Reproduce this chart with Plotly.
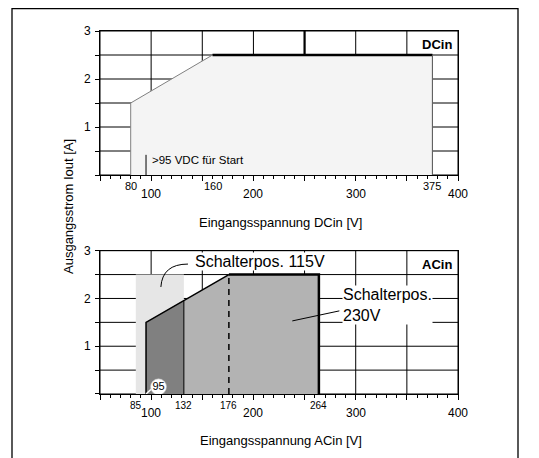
import plotly.graph_objects as go

FONT = "Liberation Sans, Arial, Helvetica, sans-serif"

# ---------------- data ----------------
# DC input derating area
dc_x = [80, 80, 160, 375, 375]
dc_y = [0, 1.5, 2.5, 2.5, 0]
dc_top_x = [160, 375, 375]
dc_top_y = [2.5, 2.5, 0]
dc_start_x = [95, 95]
dc_start_y = [0, 0.42]
dc_thick_grid_x = [250, 250]
dc_thick_grid_y = [2.5, 3]

# AC input areas
ac115_x = [85, 85, 132, 132]
ac115_y = [0, 2.5, 2.5, 0]
ac230_x = [95, 95, 176, 264, 264]
ac230_y = [0, 1.5, 2.5, 2.5, 0]
acdark_x = [95, 95, 132, 132]
acdark_y = [0, 1.5, 1.96, 0]
ac_edge_x = [95, 95, 176]
ac_edge_y = [0, 1.5, 2.5]
ac_top_x = [176, 264, 264]
ac_top_y = [2.5, 2.5, 0]
ac_132_x = [132, 132]
ac_132_y = [0, 1.96]
ac_dash_x = [176, 176]
ac_dash_y = [0, 2.5]
ac95_label = "95"

# ticks / grid
x_major_labels = [100, 200, 300, 400]
dc_special_labels = [80, 160, 375]
ac_special_labels = [85, 132, 176, 264]
y_tickvals = [0, 0.5, 1, 1.5, 2, 2.5, 3]
y_ticktext = ["", "", "1", "", "2", "", "3"]
x_gridvals = [50, 100, 150, 200, 250, 300, 350, 400]

fig = go.Figure()

def poly(x, y, color, xa, ya):
    fig.add_trace(go.Scatter(x=x, y=y, fill="toself", fillcolor=color, mode="lines",
                             line=dict(width=0, color=color), hoverinfo="skip",
                             showlegend=False, xaxis=xa, yaxis=ya))

def line(x, y, xa, ya, color="black", width=1, dash="solid"):
    fig.add_trace(go.Scatter(x=x, y=y, mode="lines", line=dict(color=color, width=width, dash=dash),
                             hoverinfo="skip", showlegend=False, xaxis=xa, yaxis=ya))

# --- top (DC) ---
fig.add_trace(go.Scatter(x=dc_x, y=dc_y, fill="toself", fillcolor="#f4f4f4", mode="lines",
                         line=dict(width=1, color="#808080"), hoverinfo="skip",
                         showlegend=False, xaxis="x", yaxis="y"))
line(dc_top_x[:2], dc_top_y[:2], "x", "y", width=2.5)
line(dc_top_x[1:], dc_top_y[1:], "x", "y", color="#606060", width=1)
line(dc_start_x, dc_start_y, "x", "y", width=1)
line(dc_thick_grid_x, dc_thick_grid_y, "x", "y", width=2.2)

# --- bottom (AC) ---
poly(ac115_x, ac115_y, "#e6e6e6", "x2", "y2")
poly(ac230_x, ac230_y, "#b3b3b3", "x2", "y2")
poly(acdark_x, acdark_y, "#808080", "x2", "y2")
line(ac_edge_x, ac_edge_y, "x2", "y2", width=1.5)
line(ac_top_x, ac_top_y, "x2", "y2", width=2.5)
line(ac_132_x, ac_132_y, "x2", "y2", width=1)
line(ac_dash_x, ac_dash_y, "x2", "y2", width=1.5, dash="6px,5px")
# leader of the "95" marker
fig.add_trace(go.Scatter(x=[95, 101], y=[0, 0.12], mode="lines", line=dict(color="white", width=1.5),
                         hoverinfo="skip", showlegend=False, xaxis="x2", yaxis="y2"))
fig.add_trace(go.Scatter(x=[107.2], y=[0.15], mode="markers+text", text=[ac95_label],
                         textposition="middle center",
                         textfont=dict(family=FONT, size=11, color="black"),
                         marker=dict(size=16, color="white", line=dict(color="#bbbbbb", width=0.6)),
                         hoverinfo="skip", showlegend=False, xaxis="x2", yaxis="y2"))
# leader for 230V
line([238, 284], [1.53, 1.74], "x2", "y2", width=1)

xaxis_common = dict(range=[50, 400], tickmode="array", tickvals=x_gridvals, showticklabels=False,
                    ticks="outside", ticklen=5, tickcolor="black", tickwidth=1,
                    showgrid=False,
                    showline=True, linecolor="black", linewidth=1, mirror=True, zeroline=False,
                    minor=dict(dtick=10, tick0=0, ticks="outside", ticklen=3, tickcolor="black",
                               tickwidth=1, showgrid=False))
yaxis_common = dict(range=[0, 3], tickmode="array", tickvals=y_tickvals, ticktext=y_ticktext,
                    ticks="outside", ticklen=4, tickcolor="black", ticklabelstandoff=2,
                    tickfont=dict(family=FONT, size=12, color="black"),
                    showgrid=False,
                    showline=True, linecolor="black", linewidth=1, mirror=True, zeroline=False)

top_dom = [0.6033, 1.0]
bot_dom = [0.0, 0.3948]

# page has an 8px body margin: figure is shrunk/offset so the plot lands where the reference has it
fig.update_layout(
    width=531, height=450,
    margin=dict(l=92, r=81, t=23, b=64),
    paper_bgcolor="white", plot_bgcolor="white",
    font=dict(family=FONT, color="black"),
    xaxis=dict(xaxis_common, domain=[0, 1], anchor="y"),
    yaxis=dict(yaxis_common, domain=top_dom, anchor="x"),
    xaxis2=dict(xaxis_common, domain=[0, 1], anchor="y2"),
    yaxis2=dict(yaxis_common, domain=bot_dom, anchor="x2"),
    showlegend=False,
)

ann = []
# x tick labels
for xref, yref, specials, ssize in [("x", "y domain", dc_special_labels, 11),
                                     ("x2", "y2 domain", ac_special_labels, 10)]:
    for v in x_major_labels:
        ann.append(dict(x=v, y=0, xref=xref, yref=yref, text=str(v), showarrow=False,
                        xanchor="center", yanchor="middle", yshift=-19,
                        font=dict(family=FONT, size=12, color="black")))
    for v in specials:
        ann.append(dict(x=v, y=0, xref=xref, yref=yref, text=str(v), showarrow=False,
                        xanchor="center", yanchor="middle", yshift=-11,
                        font=dict(family=FONT, size=ssize, color="black")))

# axis titles
ann.append(dict(x=0.505, y=0, xref="x domain", yref="y domain", text="Eingangsspannung DCin [V]",
                showarrow=False, xanchor="center", yanchor="middle", yshift=-47,
                font=dict(family=FONT, size=13, color="black")))
ann.append(dict(x=0.505, y=0, xref="x2 domain", yref="y2 domain", text="Eingangsspannung ACin [V]",
                showarrow=False, xanchor="center", yanchor="middle", yshift=-46,
                font=dict(family=FONT, size=13, color="black")))
ann.append(dict(x=(68 - 100) / 358, y=(394 - 207) / 363, xref="paper", yref="paper",
                text="Ausgangsstrom Iout [A]", textangle=-90, showarrow=False,
                xanchor="center", yanchor="middle",
                font=dict(family=FONT, size=13, color="black")))

# panel labels
ann.append(dict(x=396, y=2.72, xref="x", yref="y", text="<b>DCin</b>", showarrow=False,
                xanchor="right", yanchor="middle", font=dict(family=FONT, size=13, color="black")))
ann.append(dict(x=396, y=2.72, xref="x2", yref="y2", text="<b>ACin</b>", showarrow=False,
                xanchor="right", yanchor="middle", font=dict(family=FONT, size=13, color="black")))

# notes
ann.append(dict(x=99, y=0.31, xref="x", yref="y", text=">95 VDC für Start", showarrow=False,
                xanchor="left", yanchor="middle", font=dict(family=FONT, size=11.5, color="black")))
ann.append(dict(x=141.5, y=2.77, xref="x2", yref="y2", text="Schalterpos. 115V", showarrow=False,
                xanchor="left", yanchor="middle", bgcolor="white", borderpad=0,
                font=dict(family=FONT, size=16, color="black")))
ann.append(dict(x=286.5, y=1.87, xref="x2", yref="y2", text="Schalterpos.<br>230V", showarrow=False,
                xanchor="left", yanchor="middle", align="left", bgcolor="white", borderpad=0,
                font=dict(family=FONT, size=16, color="black")))

fig.update_layout(annotations=ann)

shapes = []
# grid lines drawn beneath the traces
for xa, ya in [("x", "y"), ("x2", "y2")]:
    for gx in x_gridvals:
        shapes.append(dict(type="line", layer="below", xref=xa, yref=ya + " domain",
                           x0=gx, x1=gx, y0=0, y1=1, line=dict(color="black", width=1)))
    for gy in y_tickvals:
        shapes.append(dict(type="line", layer="below", xref=xa + " domain", yref=ya,
                           x0=0, x1=1, y0=gy, y1=gy, line=dict(color="black", width=1)))

shapes += [
    # curved leader to "Schalterpos. 115V"
    dict(type="path", xref="x2", yref="y2", path="M 109.5,2.24 Q 111,2.72 136,2.72",
         line=dict(color="black", width=1)),
    # outer frame (top edge at the very top of the figure)
    dict(type="rect", xref="paper", yref="paper", x0=(12 - 100) / 358, x1=(518 - 100) / 358,
         y0=-0.3, y1=(386 - 0.7) / 363, line=dict(color="black", width=1.3),
         fillcolor="rgba(0,0,0,0)"),
]
fig.update_layout(shapes=shapes)

fig.write_html("out.html")
